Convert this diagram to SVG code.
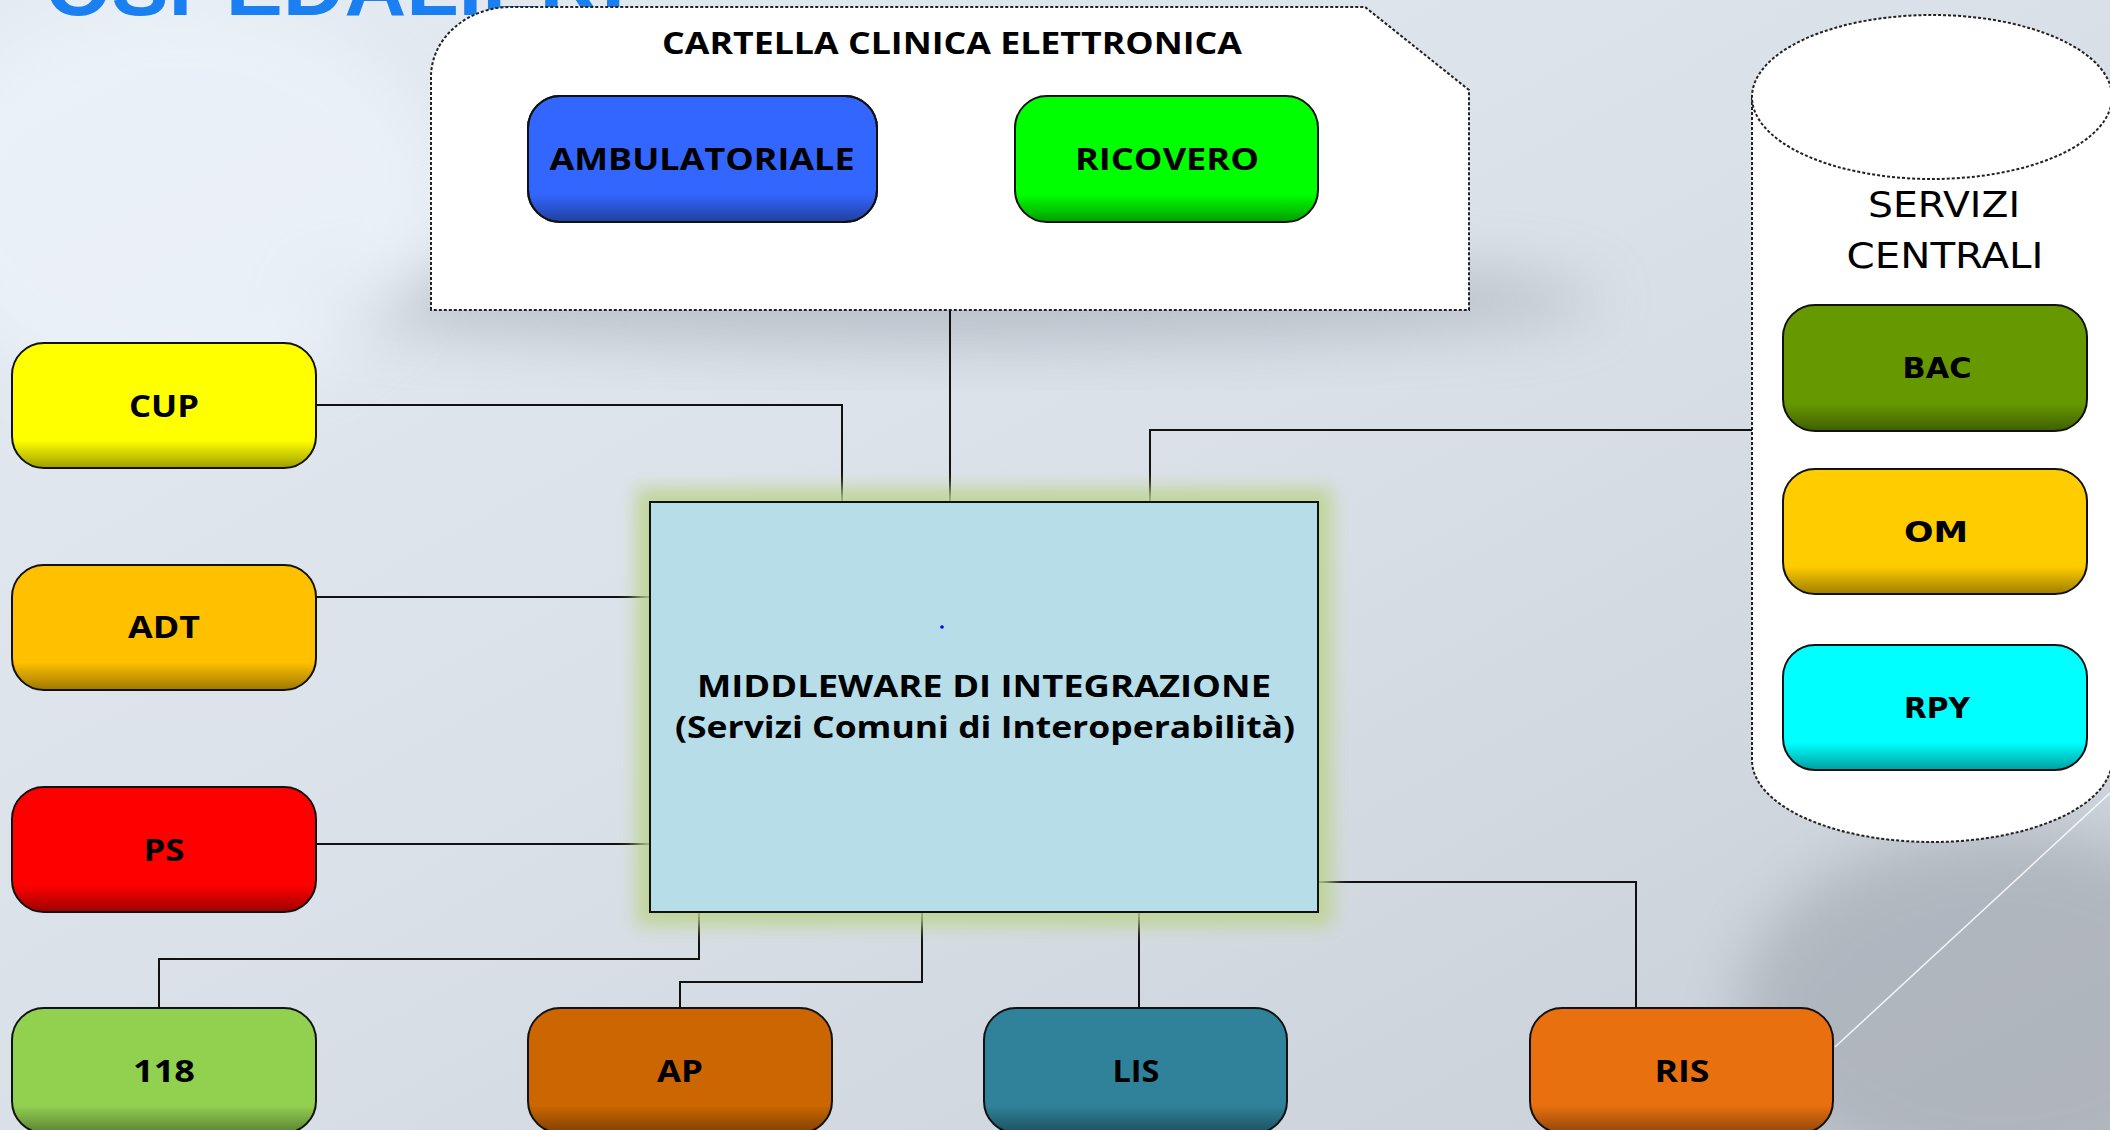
<svg xmlns="http://www.w3.org/2000/svg" width="2110" height="1130" viewBox="0 0 2110 1130">
<style>
.node{stroke:#111;stroke-width:2}
.shade{fill:url(#shade);stroke:none}
.lbl{font-family:"Open Sans","Liberation Sans",sans-serif;font-weight:bold;font-size:30px;fill:#000;text-anchor:middle}
.clbl{font-family:"DejaVu Sans","Liberation Sans",sans-serif;font-weight:bold;font-size:29px;fill:#000;text-anchor:middle}
.conn{fill:none;stroke:#111;stroke-width:2}
.dash{fill:#fff;stroke:#222;stroke-width:2;stroke-dasharray:3 2}
</style>
<defs>
<linearGradient id="shade" x1="0" y1="0" x2="0" y2="1">
<stop offset="0" stop-color="#000" stop-opacity="0"/>
<stop offset="0.78" stop-color="#000" stop-opacity="0"/>
<stop offset="1" stop-color="#000" stop-opacity="0.38"/>
</linearGradient>
<linearGradient id="bg" x1="0" y1="0" x2="1" y2="1">
<stop offset="0" stop-color="#e4ebf2"/>
<stop offset="0.5" stop-color="#d9e0e8"/>
<stop offset="1" stop-color="#c9ced6"/>
</linearGradient>
<filter id="blur30" x="-50%" y="-50%" width="200%" height="200%"><feGaussianBlur stdDeviation="30"/></filter>
<filter id="glow" x="-20%" y="-20%" width="140%" height="140%"><feGaussianBlur stdDeviation="9"/></filter>
</defs>
<g id="background">
<rect x="0" y="0" width="2110" height="1130" fill="url(#bg)"/>
<ellipse cx="950" cy="300" rx="650" ry="45" fill="#9fa4ad" opacity="0.55" filter="url(#blur30)"/>
<ellipse cx="2000" cy="1010" rx="260" ry="180" fill="#8f959e" opacity="0.45" filter="url(#blur30)"/>
<ellipse cx="180" cy="200" rx="260" ry="200" fill="#eef4fa" opacity="0.7" filter="url(#blur30)"/>
<line x1="1835" y1="1047" x2="2110" y2="793" stroke="#fff" stroke-width="1.5" opacity="0.85"/>
<text x="45" y="15" font-family="Liberation Sans,sans-serif" font-weight="bold" font-size="82" fill="#1a7ff0" textLength="580" lengthAdjust="spacingAndGlyphs">OSPEDALIERI</text>
</g>
<g id="cartella">
<path class="dash" d="M431 310 V77 A80 70 0 0 1 511 7 H1365 L1469 90 V310 Z"/>
<text class="lbl" x="952" y="54" textLength="580" lengthAdjust="spacingAndGlyphs">CARTELLA CLINICA ELETTRONICA</text>
</g>
<g id="servizi-centrali">
<path class="dash" d="M1752 97 V760 A180 82 0 0 0 2112 760 V97 Z"/>
<ellipse class="dash" cx="1932" cy="97" rx="180" ry="82"/>
<text x="1944" y="217" font-family="DejaVu Sans,Liberation Sans,sans-serif" font-size="36" text-anchor="middle" textLength="152" lengthAdjust="spacingAndGlyphs">SERVIZI</text>
<text x="1945" y="268" font-family="DejaVu Sans,Liberation Sans,sans-serif" font-size="36" text-anchor="middle" textLength="197" lengthAdjust="spacingAndGlyphs">CENTRALI</text>
</g>
<g id="connectors">
<path class="conn" d="M316 405 H842 V502"/>
<path class="conn" d="M950 310 V502"/>
<path class="conn" d="M1150 502 V430 H1752"/>
<path class="conn" d="M316 597 H650"/>
<path class="conn" d="M316 844 H650"/>
<path class="conn" d="M699 912 V959 H159 V1008"/>
<path class="conn" d="M922 912 V982 H680 V1008"/>
<path class="conn" d="M1139 912 V1008"/>
<path class="conn" d="M1318 882 H1636 V1008"/>
</g>
<g id="middleware">
<rect x="636" y="488" width="696" height="438" fill="#bdd490" opacity="0.9" filter="url(#glow)"/>
<rect x="650" y="502" width="668" height="410" fill="#b7dde8" stroke="#111" stroke-width="2"/>
<circle cx="942" cy="627" r="1.8" fill="#0000ff"/>
<text class="lbl" x="984" y="697" font-size="28" textLength="574" lengthAdjust="spacingAndGlyphs">MIDDLEWARE DI INTEGRAZIONE</text>
<text class="lbl" x="985" y="738" font-size="28" textLength="620" lengthAdjust="spacingAndGlyphs">(Servizi Comuni di Interoperabilità)</text>
</g>
<g id="ambulatoriale">
<rect class="node" x="528" y="96" width="349" height="126" rx="32" fill="#3366ff"/>
<rect class="shade" x="528" y="96" width="349" height="126" rx="32"/>
<rect x="528" y="96" width="349" height="126" rx="32" fill="none" stroke="#111" stroke-width="2"/>
<text class="lbl" x="702" y="170" textLength="305" lengthAdjust="spacingAndGlyphs">AMBULATORIALE</text>
</g>
<g id="ricovero">
<rect x="1015" y="96" width="303" height="126" rx="32" fill="#00ff00"/>
<rect class="shade" x="1015" y="96" width="303" height="126" rx="32"/>
<rect x="1015" y="96" width="303" height="126" rx="32" fill="none" stroke="#111" stroke-width="2"/>
<text class="lbl" x="1167" y="170" textLength="184" lengthAdjust="spacingAndGlyphs">RICOVERO</text>
</g>
<g id="cup">
<rect x="12" y="343" width="304" height="125" rx="32" fill="#ffff00"/>
<rect class="shade" x="12" y="343" width="304" height="125" rx="32"/>
<rect x="12" y="343" width="304" height="125" rx="32" fill="none" stroke="#111" stroke-width="2"/>
<text class="lbl" x="164" y="417" textLength="70" lengthAdjust="spacingAndGlyphs">CUP</text>
</g>
<g id="adt">
<rect x="12" y="565" width="304" height="125" rx="32" fill="#ffc000"/>
<rect class="shade" x="12" y="565" width="304" height="125" rx="32"/>
<rect x="12" y="565" width="304" height="125" rx="32" fill="none" stroke="#111" stroke-width="2"/>
<text class="lbl" x="164" y="638" textLength="72" lengthAdjust="spacingAndGlyphs">ADT</text>
</g>
<g id="ps">
<rect x="12" y="787" width="304" height="125" rx="32" fill="#ff0000"/>
<rect class="shade" x="12" y="787" width="304" height="125" rx="32"/>
<rect x="12" y="787" width="304" height="125" rx="32" fill="none" stroke="#111" stroke-width="2"/>
<text class="lbl" x="164" y="861" textLength="41" lengthAdjust="spacingAndGlyphs">PS</text>
</g>
<g id="n118">
<rect x="12" y="1008" width="304" height="125" rx="32" fill="#92d050"/>
<rect class="shade" x="12" y="1008" width="304" height="125" rx="32"/>
<rect x="12" y="1008" width="304" height="125" rx="32" fill="none" stroke="#111" stroke-width="2"/>
<text class="lbl" x="164" y="1082" textLength="62" lengthAdjust="spacingAndGlyphs">118</text>
</g>
<g id="ap">
<rect x="528" y="1008" width="304" height="125" rx="32" fill="#cc6600"/>
<rect class="shade" x="528" y="1008" width="304" height="125" rx="32"/>
<rect x="528" y="1008" width="304" height="125" rx="32" fill="none" stroke="#111" stroke-width="2"/>
<text class="lbl" x="680" y="1082" textLength="46" lengthAdjust="spacingAndGlyphs">AP</text>
</g>
<g id="lis">
<rect x="984" y="1008" width="303" height="125" rx="32" fill="#2f8299"/>
<rect class="shade" x="984" y="1008" width="303" height="125" rx="32"/>
<rect x="984" y="1008" width="303" height="125" rx="32" fill="none" stroke="#111" stroke-width="2"/>
<text class="lbl" x="1136" y="1082" textLength="47" lengthAdjust="spacingAndGlyphs">LIS</text>
</g>
<g id="ris">
<rect x="1530" y="1008" width="303" height="125" rx="32" fill="#e8700f"/>
<rect class="shade" x="1530" y="1008" width="303" height="125" rx="32"/>
<rect x="1530" y="1008" width="303" height="125" rx="32" fill="none" stroke="#111" stroke-width="2"/>
<text class="lbl" x="1682" y="1082" textLength="55" lengthAdjust="spacingAndGlyphs">RIS</text>
</g>
<g id="bac">
<rect x="1783" y="305" width="304" height="126" rx="32" fill="#669900"/>
<rect class="shade" x="1783" y="305" width="304" height="126" rx="32"/>
<rect x="1783" y="305" width="304" height="126" rx="32" fill="none" stroke="#111" stroke-width="2"/>
<text class="clbl" x="1937" y="378" textLength="69" lengthAdjust="spacingAndGlyphs">BAC</text>
</g>
<g id="om">
<rect x="1783" y="469" width="304" height="125" rx="32" fill="#ffcc00"/>
<rect class="shade" x="1783" y="469" width="304" height="125" rx="32"/>
<rect x="1783" y="469" width="304" height="125" rx="32" fill="none" stroke="#111" stroke-width="2"/>
<text class="clbl" x="1936" y="542" textLength="64" lengthAdjust="spacingAndGlyphs">OM</text>
</g>
<g id="rpy">
<rect x="1783" y="645" width="304" height="125" rx="32" fill="#00ffff"/>
<rect class="shade" x="1783" y="645" width="304" height="125" rx="32"/>
<rect x="1783" y="645" width="304" height="125" rx="32" fill="none" stroke="#111" stroke-width="2"/>
<text class="clbl" x="1937" y="718" textLength="66" lengthAdjust="spacingAndGlyphs">RPY</text>
</g>
</svg>
